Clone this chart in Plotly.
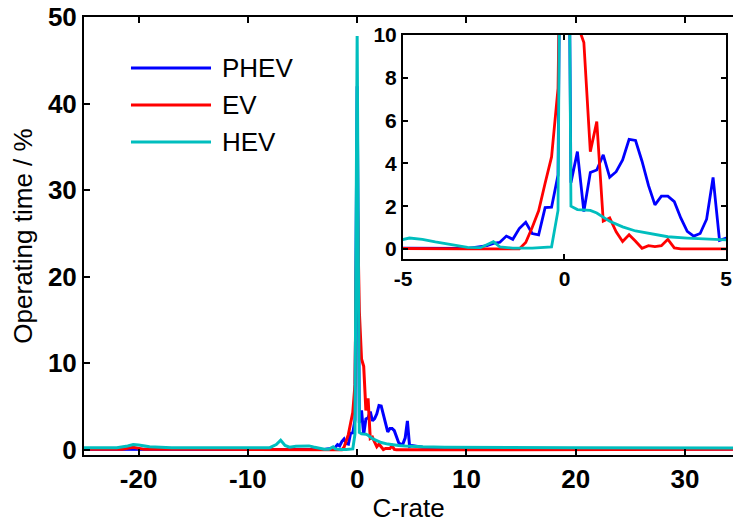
import plotly.graph_objects as go

# ---------------- data ----------------
names = ["PHEV", "EV", "HEV"]
colors = ["#0000FF", "#FF0000", "#00BEBE"]

phev_x = [-25, -10, -5, -3.0, -2.6, -2.4, -2.2, -2.0, -1.8, -1.6, -1.4, -1.2, -1.0,
          -0.8, -0.6, -0.4, -0.2, 0.0, 0.2, 0.4, 0.6, 0.8, 1.0, 1.2, 1.4, 1.6, 1.8,
          2.0, 2.2, 2.4, 2.6, 2.8, 3.0, 3.2, 3.4, 3.6, 3.8, 4.0, 4.2, 4.4, 4.6, 4.8,
          5.0, 5.4, 6.0, 8.0, 12.0, 34.4]
phev_y = [0.05, 0.05, 0.02, 0.03, 0.11, 0.15, 0.26, 0.31, 0.6, 0.45, 0.95, 1.25, 0.72,
          0.66, 1.93, 1.95, 3.45, 42.0, 3.1, 4.55, 1.75, 3.57, 3.69, 4.4, 3.35, 3.61, 4.16,
          5.12, 5.07, 4.1, 2.97, 2.06, 2.47, 2.47, 2.21, 1.45, 0.82, 0.6, 0.72, 1.39, 3.34, 0.4,
          0.5, 0.42, 0.3, 0.2, 0.12, 0.1]

ev_x = [-25, -21.5, -20.5, -19.5, -15, -8, -5, -3, -1.4, -1.2, -1.0, -0.8, -0.6, -0.4,
        -0.2, 0.0, 0.2, 0.4, 0.6, 0.8, 1.0, 1.2, 1.4, 1.6, 1.8, 2.0, 2.2, 2.4, 2.6, 2.8,
        3.0, 3.2, 3.4, 3.6, 5.0, 10, 20, 34.4]
ev_y = [0.05, 0.05, 0.3, 0.05, 0.05, 0.05, 0.0, 0.0, 0.0, 0.3, 1.0, 1.78, 3.07, 4.3,
        7.5, 30.0, 16.0, 10.5, 9.65, 4.55, 5.95, 1.3, 1.45, 0.8, 0.35, 0.66, 0.36, 0.03, 0.15, 0.11,
        0.15, 0.45, 0.05, 0.0, 0.0, 0.05, 0.05, 0.05]

hev_x = [-25, -22, -21, -20.5, -20, -19, -17, -10, -8, -7.4, -7.0, -6.6, -6.2, -5.6,
         -5.0, -4.8, -4.4, -4.0, -3.4, -3.0, -2.6, -2.4, -2.2, -2.0, -1.6, -1.0, -0.4,
         -0.2, 0.0, 0.2, 0.4, 0.8, 1.0, 1.4, 1.8, 2.2, 2.8, 3.2, 3.8, 4.4, 5.0, 6.0,
         8.0, 12.0, 20.0, 34.4]
hev_y = [0.25, 0.25, 0.45, 0.6, 0.55, 0.35, 0.25, 0.2, 0.25, 0.6, 1.1, 0.5, 0.3, 0.4,
         0.44, 0.51, 0.45, 0.33, 0.17, 0.07, 0.06, 0.2, 0.34, 0.1, 0.04, 0.04, 0.1,
         1.8, 47.8, 2.0, 1.84, 1.8, 1.68, 1.29, 1.03, 0.84, 0.66, 0.57, 0.51, 0.45, 0.41, 0.35,
         0.3, 0.26, 0.24, 0.22]

series_x = [phev_x, ev_x, hev_x]
series_y = [phev_y, ev_y, hev_y]

main_xticks = [-20, -10, 0, 10, 20, 30]
main_xlabels = ["-20", "-10", "0", "10", "20", "30"]
main_yticks = [0, 10, 20, 30, 40, 50]
inset_xticks = [-5, 0, 5]
inset_xlabels = ["-5", "0", "5"]
inset_yticks = [0, 2, 4, 6, 8, 10]

# ---------------- figure ----------------
fig = go.Figure()
for xs, ys, nm, col in zip(series_x, series_y, names, colors):
    fig.add_trace(go.Scatter(x=xs, y=ys, mode="lines", name=nm,
                             line=dict(color=col, width=3),
                             xaxis="x", yaxis="y", showlegend=False))
for xs, ys, nm, col in zip(series_x, series_y, names, colors):
    fig.add_trace(go.Scatter(x=xs, y=ys, mode="lines", name=nm,
                             line=dict(color=col, width=2.8),
                             xaxis="x2", yaxis="y2", showlegend=False))

FONT = "Liberation Sans, Arial, sans-serif"
tick_font_main = dict(family=FONT, size=26, color="black", weight="bold")
tick_font_inset = dict(family=FONT, size=21, color="black", weight="bold")

fig.update_layout(
    width=733, height=523,
    margin=dict(l=84, r=0, t=17, b=68, autoexpand=False),
    paper_bgcolor="white", plot_bgcolor="white",
    font=dict(family=FONT, color="black"),
    xaxis=dict(domain=[0, 1], range=[-25, 34.4], tickvals=main_xticks, ticktext=main_xlabels,
               ticks="inside", ticklen=6, tickwidth=1.5, tickcolor="black",
               showline=True, linecolor="black", linewidth=2, mirror="ticks",
               showgrid=False, zeroline=False, tickfont=tick_font_main, automargin=False,
               title=dict(text="C-rate", font=dict(family=FONT, size=26), standoff=10)),
    yaxis=dict(domain=[0, 1], range=[-0.6, 50], tickvals=main_yticks,
               ticks="inside", ticklen=6, tickwidth=1.5, tickcolor="black",
               showline=True, linecolor="black", linewidth=2, mirror=False,
               showgrid=False, zeroline=False, tickfont=tick_font_main, automargin=False,
               title=dict(text="Operating time / %", font=dict(family=FONT, size=26), standoff=8)),
    xaxis2=dict(domain=[0.4915, 0.9892], range=[-5, 5], tickvals=inset_xticks, ticktext=inset_xlabels,
                anchor="y2", ticks="inside", ticklen=5, tickwidth=1.5, tickcolor="black",
                showline=True, linecolor="black", linewidth=2, mirror="ticks", automargin=False,
                showgrid=False, zeroline=False, tickfont=tick_font_inset),
    yaxis2=dict(domain=[0.4475, 0.9589], range=[-0.47, 10], tickvals=inset_yticks,
                anchor="x2", ticks="inside", ticklen=5, tickwidth=1.5, tickcolor="black",
                showline=True, linecolor="black", linewidth=2, mirror="ticks", automargin=False,
                showgrid=False, zeroline=False, tickfont=tick_font_inset),
)

# legend drawn as short line samples + labels in the upper-left corner
leg_y = [0.8836, 0.7991, 0.7146]
for nm, col, yy in zip(names, colors, leg_y):
    fig.add_shape(type="line", xref="paper", yref="paper",
                  x0=0.0724, x1=0.1957, y0=yy, y1=yy,
                  line=dict(color=col, width=3))
    fig.add_annotation(xref="paper", yref="paper", x=0.2096, y=yy,
                       text=nm, showarrow=False, xanchor="left", yanchor="middle",
                       font=dict(family=FONT, size=26, color="black"))

fig.write_html("out.html")
